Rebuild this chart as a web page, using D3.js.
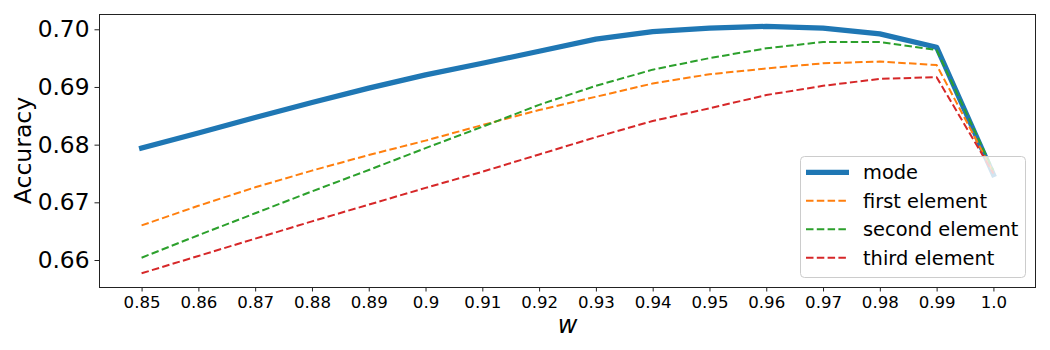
<!DOCTYPE html>
<html>
<head>
<meta charset="utf-8">
<script src="https://cdn.jsdelivr.net/npm/d3@7"></script>
<style>
  body { margin: 0; background: #fff; }
  svg { display: block; font-family: "DejaVu Sans", sans-serif; }
</style>
</head>
<body>
<div id="chart"></div>
<script>
var wValues = [0.85, 0.86, 0.87, 0.88, 0.89, 0.9, 0.91, 0.92, 0.93, 0.94, 0.95, 0.96, 0.97, 0.98, 0.99, 1.0];
var xTickLabels = ['0.85', '0.86', '0.87', '0.88', '0.89', '0.9', '0.91', '0.92', '0.93', '0.94', '0.95', '0.96', '0.97', '0.98', '0.99', '1.0'];
var yTicks = [0.66, 0.67, 0.68, 0.69, 0.70];
var yTickLabels = ['0.66', '0.67', '0.68', '0.69', '0.70'];

var seriesNames = ['mode', 'first element', 'second element', 'third element'];
var modeAcc   = [0.6794, 0.6820, 0.6847, 0.6873, 0.6898, 0.6921, 0.6941, 0.6962, 0.6983, 0.6996, 0.7002, 0.7005, 0.7002, 0.6992, 0.6969, 0.6748];
var firstAcc  = [0.6660, 0.6694, 0.6726, 0.6755, 0.6782, 0.6807, 0.6834, 0.6860, 0.6883, 0.6906, 0.6922, 0.6932, 0.6941, 0.6944, 0.6938, 0.6752];
var secondAcc = [0.6604, 0.6643, 0.6681, 0.6719, 0.6756, 0.6794, 0.6831, 0.6869, 0.6902, 0.6930, 0.6950, 0.6967, 0.6978, 0.6978, 0.6964, 0.6755];
var thirdAcc  = [0.6577, 0.6607, 0.6637, 0.6667, 0.6696, 0.6725, 0.6753, 0.6783, 0.6813, 0.6841, 0.6863, 0.6886, 0.6902, 0.6914, 0.6917, 0.6750];

var w = 1050, h = 350;
var plotLeft = 99, plotRight = 1036, plotTop = 14, plotBottom = 287;

var svg = d3.select('#chart').append('svg')
  .attr('width', w)
  .attr('height', h);

var xScale = d3.scaleLinear().domain([0.8425, 1.0075]).range([plotLeft, plotRight]);
var yScale = d3.scaleLinear().domain([0.65532, 0.70265]).range([plotBottom, plotTop]);

var series = [
  { name: seriesNames[0], values: modeAcc,   color: '#1f77b4', width: 5.2, dash: null },
  { name: seriesNames[1], values: firstAcc,  color: '#ff7f0e', width: 2, dash: '7.5,3.3' },
  { name: seriesNames[2], values: secondAcc, color: '#2ca02c', width: 2, dash: '7.5,3.3' },
  { name: seriesNames[3], values: thirdAcc,  color: '#d62728', width: 2, dash: '7.5,3.3' }
];

var line = d3.line()
  .x(function(d, i) { return xScale(wValues[i]); })
  .y(function(d) { return yScale(d); });

svg.append('g').selectAll('path')
  .data(series)
  .enter()
  .append('path')
  .attr('d', function(d) { return line(d.values); })
  .attr('fill', 'none')
  .attr('stroke', function(d) { return d.color; })
  .attr('stroke-width', function(d) { return d.width; })
  .attr('stroke-dasharray', function(d) { return d.dash; })
  .attr('stroke-linejoin', 'round')
  .attr('stroke-linecap', function(d) { return d.dash ? 'butt' : 'square'; });

// axes
var xAxis = d3.axisBottom(xScale)
  .tickValues(wValues)
  .tickFormat(function(d, i) { return xTickLabels[i]; })
  .tickSizeOuter(0)
  .tickSizeInner(4.5)
  .tickPadding(5);

var yAxis = d3.axisLeft(yScale)
  .tickValues(yTicks)
  .tickFormat(function(d, i) { return yTickLabels[i]; })
  .tickSizeOuter(0)
  .tickSizeInner(4.5)
  .tickPadding(5);

var gx = svg.append('g')
  .attr('transform', 'translate(0,' + plotBottom + ')')
  .call(xAxis);
gx.select('.domain').remove();
gx.selectAll('text').attr('font-size', '16.6px').attr('fill', '#000').attr('font-family', 'DejaVu Sans');
gx.selectAll('line').attr('stroke', '#222');

var gy = svg.append('g')
  .attr('transform', 'translate(' + plotLeft + ',0)')
  .call(yAxis);
gy.select('.domain').remove();
gy.selectAll('text').attr('font-size', '23.3px').attr('fill', '#000').attr('font-family', 'DejaVu Sans');
gy.selectAll('line').attr('stroke', '#222');

// frame
svg.append('rect')
  .attr('x', plotLeft + 0.5)
  .attr('y', plotTop + 0.5)
  .attr('width', plotRight - plotLeft - 1)
  .attr('height', plotBottom - plotTop)
  .attr('fill', 'none')
  .attr('stroke', '#222')
  .attr('stroke-width', 1);

// axis titles
svg.append('text')
  .attr('transform', 'translate(31,' + ((plotTop + plotBottom) / 2) + ') rotate(-90)')
  .attr('text-anchor', 'middle')
  .attr('font-size', '23.5px')
  .text('Accuracy');

svg.append('text')
  .attr('x', (plotLeft + plotRight) / 2)
  .attr('y', 333)
  .attr('text-anchor', 'middle')
  .attr('font-size', '24px')
  .attr('font-style', 'italic')
  .text('w');

// legend
var legend = svg.append('g');
legend.append('rect')
  .attr('x', 800.5)
  .attr('y', 156.5)
  .attr('width', 225)
  .attr('height', 121)
  .attr('rx', 4)
  .attr('fill', '#fff')
  .attr('fill-opacity', 0.8)
  .attr('stroke', '#ccc');

var rows = legend.selectAll('g.row')
  .data(series)
  .enter()
  .append('g')
  .attr('class', 'row')
  .attr('transform', function(d, i) { return 'translate(0,' + (172.3 + i * 28.5) + ')'; });

rows.append('line')
  .attr('x1', 806)
  .attr('x2', 849)
  .attr('stroke', function(d) { return d.color; })
  .attr('stroke-width', function(d) { return d.width; })
  .attr('stroke-dasharray', function(d) { return d.dash; });

rows.append('text')
  .attr('x', 863)
  .attr('dy', '0.35em')
  .attr('font-size', '19.4px')
  .text(function(d) { return d.name; });
</script>
</body>
</html>
